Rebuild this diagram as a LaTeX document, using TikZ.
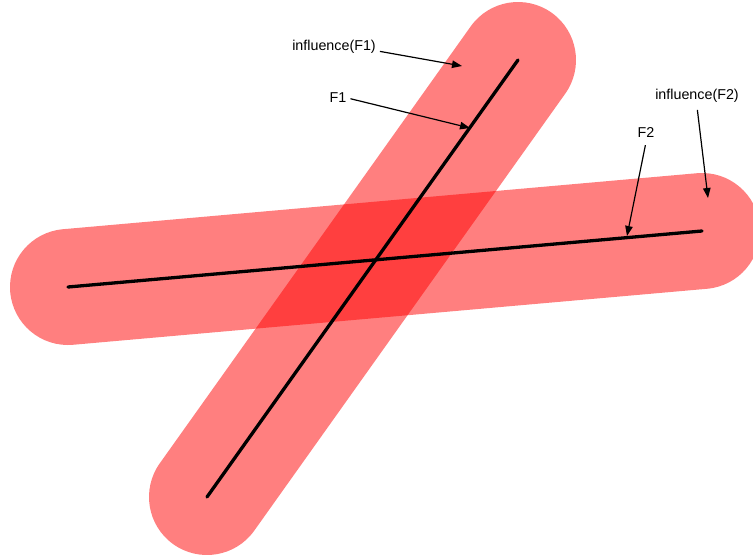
\documentclass[tikz,border=0pt]{standalone}
\usepackage{fontspec}
\setmainfont{Liberation Sans}
\usetikzlibrary{arrows.meta}
\tikzset{
  influence/.style={line width=116pt, line cap=round, draw=red, draw opacity=0.5},
  fault/.style={line width=3.3pt, line cap=round},
  pointer/.style={line width=1.2pt, -{Triangle[length=10pt,width=7.5pt]}, shorten <=3pt},
  label/.style={font=\fontsize{14.3}{16}\selectfont, inner sep=1pt}
}
\begin{document}
\begin{tikzpicture}[x=1pt, y=-1pt]
            % Canvas
            \useasboundingbox (0, 0) rectangle (753, 560);
            \clip (0, 0) rectangle (753, 560);

            % End points of the two faults
            \coordinate (f1a) at (207, 497);
            \coordinate (f1b) at (518, 60);
            \coordinate (f2a) at (68, 287);
            \coordinate (f2b) at (702, 231);

            % Influence zones
            \draw[influence] (f1a) -- (f1b);
            \draw[influence] (f2a) -- (f2b);

            % Faults
            \draw[fault] (f1a) -- (f1b);
            \draw[fault] (f2a) -- (f2b);

            % Labels
            \node[label] (infl1) at (334, 47) {influence(F1)};
            \node[label] (lab1) at (338, 98) {F1};
            \node[label] (infl2) at (697, 96) {influence(F2)};
            \node[label] (lab2) at (646, 133) {F2};

            % Pointed spots
            \coordinate (pinfl1) at (462, 66);
            \coordinate (plab1) at (470, 128);
            \coordinate (pinfl2) at (708, 198);
            \coordinate (plab2) at (627, 236);

            % Arrows from the labels
            \draw[pointer] (infl1.south east) ++(0, -4) -- (pinfl1);
            \draw[pointer] (lab1.east) -- (plab1);
            \draw[pointer] (infl2.south) ++(0, 3) -- (pinfl2);
            \draw[pointer] (lab2.south) ++(0, 3) -- (plab2);

\end{tikzpicture}
\end{document}
